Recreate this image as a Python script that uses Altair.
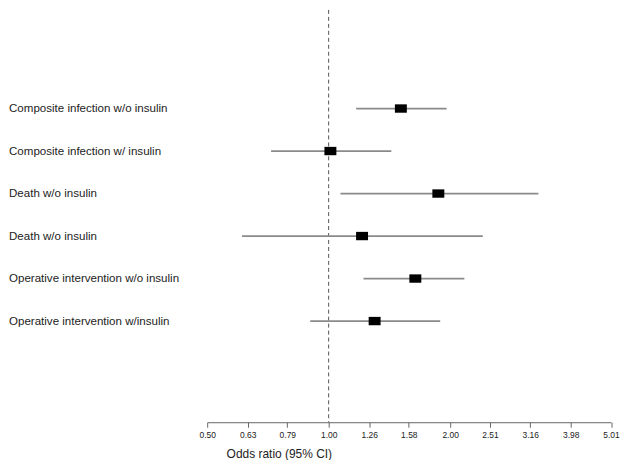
import json
import altair as alt
import pandas as pd

labels = [
    "Composite infection w/o insulin",
    "Composite infection w/ insulin",
    "Death w/o insulin",
    "Death w/o insulin",
    "Operative intervention w/o insulin",
    "Operative intervention w/insulin",
]
odds = [1.51, 1.01, 1.87, 1.21, 1.64, 1.30]
lower = [1.17, 0.72, 1.07, 0.61, 1.22, 0.90]
upper = [1.96, 1.43, 3.31, 2.41, 2.17, 1.89]
tick_values = [0.50, 0.63, 0.79, 1.00, 1.26, 1.58, 2.00, 2.51, 3.16, 3.98, 5.01]

df = pd.DataFrame({
    "row": list(range(len(labels))),
    "label": labels,
    "or": odds,
    "lo": lower,
    "hi": upper,
})

label_expr = json.dumps(labels) + "[round(datum.value)]"

xscale = alt.Scale(type="log", domain=[0.5, 5.01], nice=False, zero=False)
yscale = alt.Scale(domain=[-2.32, 7.38], reverse=True, nice=False, zero=False)

x_axis = alt.Axis(
    values=tick_values, format=".2f", grid=False,
    labelFont="Liberation Sans", labelFontSize=8.5, labelColor="#222",
    labelPadding=3, tickSize=5, tickColor="#666", domainColor="#666",
    title="Odds ratio (95% CI)", titleFont="Liberation Sans", titleFontSize=12,
    titleFontWeight="normal", titleColor="#222", titleAlign="left",
    titleAnchor="start", titleX=19, titleY=35, titleBaseline="alphabetic",
    labelFlush=False, labelOverlap=False,
)
y_axis = alt.Axis(
    values=list(range(len(labels))),
    labelExpr=label_expr, labelAlign="left", labelBaseline="middle",
    labelPadding=199.5, labelFont="Liberation Sans", labelFontSize=11.6,
    labelColor="#222", labelLimit=300, domain=False, ticks=False,
    grid=False, title=None, labelOverlap=False,
)

base = alt.Chart(df)

ref = alt.Chart(pd.DataFrame({"v": [1.0]})).mark_rule(
    color="#555", strokeDash=[4, 3], strokeWidth=1
).encode(x=alt.X("v:Q", scale=xscale, axis=x_axis))

whisk = base.mark_rule(color="#8a8a8a", strokeWidth=1.7).encode(
    x=alt.X("lo:Q", scale=xscale, axis=x_axis),
    x2="hi:Q",
    y=alt.Y("row:Q", scale=yscale, axis=y_axis),
)

boxes = base.mark_point(
    shape="M-1,-0.7H1V0.7H-1Z", filled=True, color="black", opacity=1, size=144
).encode(
    x=alt.X("or:Q", scale=xscale, axis=x_axis),
    y=alt.Y("row:Q", scale=yscale, axis=y_axis),
)

chart = alt.layer(ref, whisk, boxes).properties(
    width=405.5, height=414, padding=0
).configure_view(stroke=None)

chart.save("out.html", embed_options={"renderer": "svg", "actions": False})
